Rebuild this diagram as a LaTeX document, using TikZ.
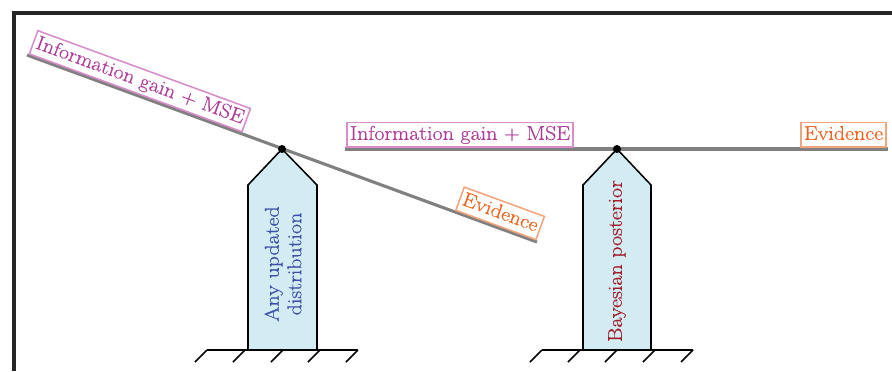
\documentclass[tikz,border=0pt]{standalone}
\usepackage{fontspec}
\setmainfont{Latin Modern Roman}[FakeBold=0.5, FakeStretch=1.1]
\usetikzlibrary{calc}

\definecolor{gainpink}{HTML}{B03C9A}
\definecolor{gainedge}{HTML}{D98CCB}
\definecolor{evidorange}{HTML}{F0641E}
\definecolor{evidedge}{HTML}{F2A57A}
\definecolor{pillarblue}{HTML}{D3EBF3}
\definecolor{anyblue}{HTML}{3A4FA6}
\definecolor{bayesred}{HTML}{A01C28}

\begin{document}
\begin{tikzpicture}[x=0.025cm, y=-0.025cm,
		bigfont/.style={font=\fontsize{14.2}{16}\selectfont},
		labelbox/.style={bigfont, draw, fill=white, line width=1.1pt, inner sep=2.2pt,
			text height=10.2pt, text depth=3pt, outer sep=1.3pt},
		gainbox/.style={labelbox, draw=gainedge, text=gainpink},
		evidbox/.style={labelbox, draw=evidedge, text=evidorange},
		beam/.style={line width=2.2pt, color=black!50},
		pillar/.style={draw=black, line width=1.1pt, fill=pillarblue, line join=miter},
		ground/.style={line width=1.1pt}]
			%%%%% START %%%%%
			
			\useasboundingbox (0, 0) rectangle (892, 371);
			\draw[line width=2.2pt, color=black!85] (892, 13) -- (14, 13) -- (14, 371);
			
			% left seesaw, beam tipped over
			\coordinate (lpiv) at (282, 149);
			\coordinate (lbeamA) at (27, 55);
			\coordinate (lbeamB) at (537, 242);
			\draw[beam] (lbeamA) -- (lbeamB);
			\node[gainbox, rotate=-20.1, anchor=south west] (lgain) at (lbeamA) {Information gain + MSE};
			\node[evidbox, rotate=-20.1, anchor=south east] (levid) at (lbeamB) {Evidence};
			
			\draw[pillar] (248, 350) -- (248, 185) -- (lpiv) -- (317, 185) -- (317, 350);
			\node[bigfont, text=anyblue, rotate=90, align=center] (lpost) at (283, 264) {Any updated\\distribution};
			\fill (lpiv) circle (4);
			
			\draw[ground] (207, 350) -- (358, 350);
			\foreach \x in {207, 245, 283, 320, 358}
				\draw[ground] (\x, 350) -- ++(-12, 12);
			
			% right seesaw, beam level
			\coordinate (rpiv) at (617, 149);
			\coordinate (rbeamA) at (345, 149);
			\coordinate (rbeamB) at (888, 149);
			\draw[beam] (rbeamA) -- (rbeamB);
			\node[gainbox, anchor=south west] (rgain) at (rbeamA) {Information gain + MSE};
			\node[evidbox, anchor=south east] (revid) at (rbeamB) {Evidence};
			
			\draw[pillar] (583, 350) -- (583, 185) -- (rpiv) -- (651, 185) -- (651, 350);
			\node[bigfont, text=bayesred, rotate=90] (rpost) at (617, 261) {Bayesian posterior};
			\fill (rpiv) circle (4);
			
			\draw[ground] (542, 350) -- (693, 350);
			\foreach \x in {542, 580, 617, 655, 693}
				\draw[ground] (\x, 350) -- ++(-12, 12);
			
			%%%%% END %%%%%
\end{tikzpicture}
\end{document}
